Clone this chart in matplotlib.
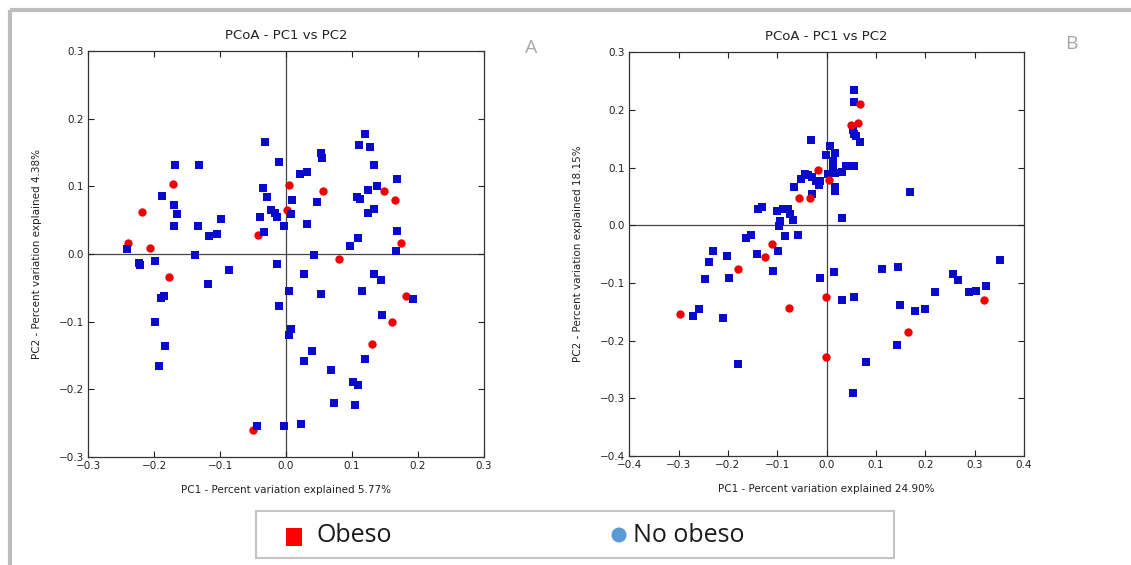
import matplotlib
matplotlib.use("Agg")
import matplotlib.pyplot as plt
from matplotlib.patches import Rectangle, Circle
import numpy as np

# ---- PCoA coordinates, panel A ----
a_noobeso_pc1 = [-0.031, -0.011, -0.168, -0.132, -0.035, -0.029, -0.188, -0.170, -0.166, -0.022,
                 -0.016, -0.013, -0.098, -0.039, -0.170, -0.134, -0.003, -0.117, -0.104, -0.033,
                 -0.241, -0.223, -0.221, -0.198, -0.138, -0.013, -0.086, -0.119,
                 0.120, 0.111, 0.128, 0.053, 0.055, 0.133, 0.021, 0.032, 0.169, 0.139,
                 0.124, 0.108, 0.113, 0.010, 0.047, 0.133, 0.124, 0.008, 0.032, 0.169,
                 0.109, 0.098, 0.167, 0.042, 0.027, 0.134, 0.144,
                 -0.185, -0.190, -0.011, -0.198, -0.183, -0.192, -0.044, -0.003,
                 0.004, 0.053, 0.116, 0.193, 0.146, 0.008, 0.004, 0.040, 0.027, 0.120,
                 0.068, 0.102, 0.109, 0.073, 0.105, 0.023]
a_noobeso_pc2 = [0.165, 0.136, 0.132, 0.132, 0.098, 0.084, 0.086, 0.072, 0.059, 0.065,
                 0.060, 0.054, 0.052, 0.054, 0.042, 0.042, 0.042, 0.027, 0.030, 0.032,
                 0.008, -0.013, -0.016, -0.010, -0.002, -0.015, -0.023, -0.045,
                 0.178, 0.161, 0.159, 0.149, 0.142, 0.132, 0.119, 0.121, 0.111, 0.101,
                 0.094, 0.084, 0.082, 0.080, 0.077, 0.067, 0.061, 0.059, 0.044, 0.034,
                 0.023, 0.012, 0.004, -0.002, -0.029, -0.029, -0.039,
                 -0.062, -0.065, -0.077, -0.101, -0.136, -0.165, -0.255, -0.255,
                 -0.054, -0.059, -0.054, -0.067, -0.090, -0.111, -0.120, -0.143, -0.159, -0.155,
                 -0.172, -0.190, -0.194, -0.221, -0.224, -0.251]
a_obeso_pc1 = [-0.171, -0.219, -0.240, -0.206, -0.043, -0.177, 0.005, 0.056, 0.149, 0.165,
               0.002, 0.175, 0.081, -0.050, 0.182, 0.161, 0.131]
a_obeso_pc2 = [0.104, 0.062, 0.017, 0.009, 0.028, -0.034, 0.102, 0.093, 0.093, 0.080,
               0.065, 0.016, -0.007, -0.261, -0.062, -0.100, -0.133]

# ---- PCoA coordinates, panel B ----
b_noobeso_pc1 = [-0.032, -0.002, -0.044, -0.037, -0.030, -0.052, -0.022, -0.013, -0.015, -0.066,
                 -0.029, -0.139, -0.130, -0.100, -0.089, -0.078, -0.074, -0.069, -0.095, -0.096,
                 -0.084, -0.058, -0.153, -0.164, -0.230, -0.201, -0.141, -0.098, -0.238, -0.109,
                 -0.247, -0.198, -0.013, -0.258, -0.270, -0.210, -0.179,
                 0.056, 0.056, 0.053, 0.056, 0.059, 0.068, 0.006, 0.017, 0.013, 0.012,
                 0.039, 0.056, 0.017, 0.031, 0.002, 0.017, 0.017, 0.170, 0.031, 0.351,
                 0.014, 0.113, 0.145, 0.257, 0.266, 0.219, 0.288, 0.303, 0.323, 0.031,
                 0.056, 0.148, 0.179, 0.200, 0.142, 0.079, 0.053]
b_noobeso_pc2 = [0.147, 0.122, 0.089, 0.088, 0.084, 0.080, 0.077, 0.076, 0.070, 0.066,
                 0.055, 0.028, 0.032, 0.025, 0.028, 0.028, 0.019, 0.010, 0.007, -0.002,
                 -0.019, -0.017, -0.017, -0.022, -0.044, -0.053, -0.050, -0.044, -0.064, -0.079,
                 -0.093, -0.091, -0.091, -0.145, -0.157, -0.160, -0.240,
                 0.235, 0.213, 0.165, 0.159, 0.154, 0.144, 0.137, 0.126, 0.111, 0.101,
                 0.103, 0.103, 0.091, 0.092, 0.089, 0.067, 0.059, 0.058, 0.013, -0.061,
                 -0.081, -0.076, -0.073, -0.085, -0.095, -0.115, -0.116, -0.113, -0.106, -0.129,
                 -0.125, -0.138, -0.149, -0.145, -0.208, -0.237, -0.291]
b_obeso_pc1 = [-0.017, -0.056, -0.033, -0.111, -0.125, -0.180, -0.297, -0.077, -0.002, -0.002,
               0.067, 0.049, 0.064, 0.005, 0.319, 0.164]
b_obeso_pc2 = [0.095, 0.048, 0.048, -0.033, -0.055, -0.075, -0.153, -0.143, -0.124, -0.229,
               0.210, 0.174, 0.178, 0.079, -0.129, -0.185]

panel_titles = ["PCoA - PC1 vs PC2", "PCoA - PC1 vs PC2"]
panel_letters = ["A", "B"]
pc1_labels = ["PC1 - Percent variation explained 5.77%", "PC1 - Percent variation explained 24.90%"]
pc2_labels = ["PC2 - Percent variation explained 4.38%", "PC2 - Percent variation explained 18.15%"]
a_ticks = [-0.3, -0.2, -0.1, 0.0, 0.1, 0.2, 0.3]
b_xticks = [-0.4, -0.3, -0.2, -0.1, 0.0, 0.1, 0.2, 0.3, 0.4]
b_yticks = [-0.4, -0.3, -0.2, -0.1, 0.0, 0.1, 0.2, 0.3]
legend_labels = ["Obeso", "No obeso"]

BLUE = "#0a0acc"
RED = "#f00000"
W, H = 1131, 565

fig = plt.figure(figsize=(W / 100, H / 100), dpi=100)
fig.patch.set_facecolor("white")

# pixel-space overlay for the frame and the legend box
ov = fig.add_axes([0, 0, 1, 1], zorder=0)
ov.set_xlim(0, W)
ov.set_ylim(H, 0)
ov.axis("off")
ov.add_patch(Rectangle((10, 10), W + 20, H + 20, fill=False, edgecolor="#bdbdbd", linewidth=3))


def make_panel(rect, noob, ob, xticks, yticks, title, letter, letter_y, xl, yl, red_on_top):
    ax = fig.add_axes(rect, zorder=2)
    ax.set_xlim(xticks[0], xticks[-1])
    ax.set_ylim(yticks[0], yticks[-1])
    ax.set_xticks(xticks)
    ax.set_yticks(yticks)
    ax.set_xticklabels([f"{t:.1f}".replace("-", "\u2212") for t in xticks])
    ax.set_yticklabels([f"{t:.1f}".replace("-", "\u2212") for t in yticks])
    ax.tick_params(direction="in", top=True, right=True, length=4, width=0.8,
                   labelsize=7.5, colors="#222222", pad=3)
    for s in ax.spines.values():
        s.set_linewidth(0.9)
        s.set_color("#333333")
    ax.axhline(0, color="#444444", lw=0.9, zorder=1)
    ax.axvline(0, color="#444444", lw=0.9, zorder=1)
    zr, zb = (4, 3) if red_on_top else (3, 4)
    ax.scatter(noob[0], noob[1], marker="s", s=27, color=BLUE, linewidths=0, zorder=zb)
    ax.scatter(ob[0], ob[1], marker="o", s=36, color=RED, linewidths=0, zorder=zr)
    ax.set_title(title, fontsize=9.5, color="#222222", pad=9)
    ax.set_xlabel(xl, fontsize=7.5, color="#222222", labelpad=10)
    ax.set_ylabel(yl, fontsize=7.5, color="#222222", labelpad=12)
    ax.text(1.12, letter_y, letter, transform=ax.transAxes, fontsize=14, color="#a8a8a8",
            family="Open Sans", ha="center", va="center")
    return ax


make_panel([88.3 / W, 1 - 456.8 / H, 395.2 / W, 405.6 / H],
           (a_noobeso_pc1, a_noobeso_pc2), (a_obeso_pc1, a_obeso_pc2),
           a_ticks, a_ticks, panel_titles[0], panel_letters[0], 1.008,
           pc1_labels[0], pc2_labels[0], False)
make_panel([629.2 / W, 1 - 456.1 / H, 394.8 / W, 403.9 / H],
           (b_noobeso_pc1, b_noobeso_pc2), (b_obeso_pc1, b_obeso_pc2),
           b_xticks, b_yticks, panel_titles[1], panel_letters[1], 1.02,
           pc1_labels[1], pc2_labels[1], True)

# legend strip below the panels
ov.add_patch(Rectangle((256, 511), 638, 47, facecolor="white", edgecolor="#c4c4c4", linewidth=1.5))
ov.add_patch(Rectangle((286, 528), 16, 18, facecolor="#ff0000", edgecolor="none"))
ov.add_patch(Circle((619, 535), 7.5, facecolor="#5b9bd5", edgecolor="none"))
ov.text(317, 535, legend_labels[0], fontsize=18, family="Open Sans", color="#1a1a1a",
        ha="left", va="center")
ov.text(633, 535, legend_labels[1], fontsize=18, family="Open Sans", color="#1a1a1a",
        ha="left", va="center")

fig.savefig("out.png", dpi=100, facecolor="white")
